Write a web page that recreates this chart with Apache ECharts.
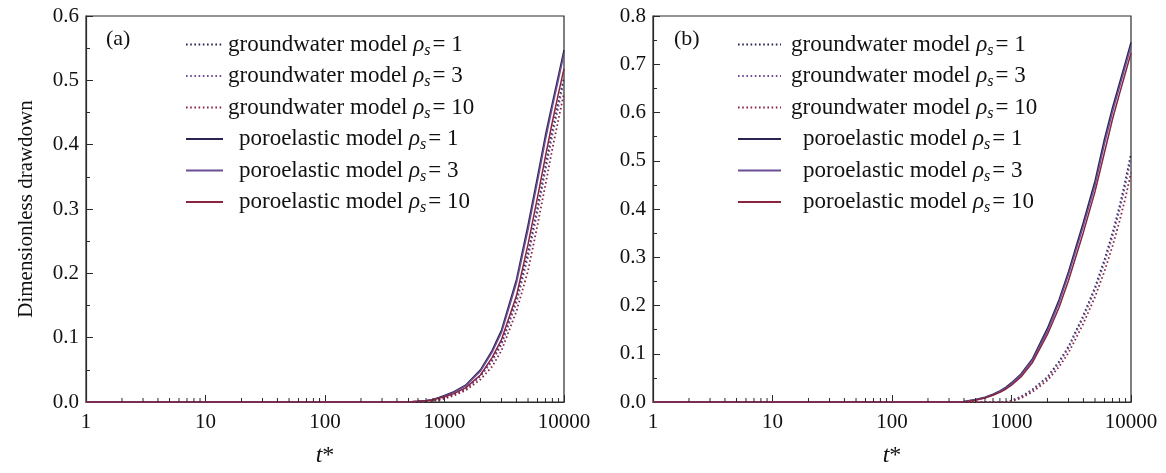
<!DOCTYPE html>
<html>
<head>
<meta charset="utf-8">
<script src="https://cdn.jsdelivr.net/npm/echarts@6.0.0/dist/echarts.min.js"></script>
<style>
  html, body { margin: 0; padding: 0; background: #fff; }
  #main { width: 1166px; height: 473px; }
</style>
</head>
<body>
<div id="main"></div>
<script>
// t* sample points (log axis)
const tValues = [1, 10, 100, 200, 300, 400, 500, 600, 700, 800, 900, 1000, 1200, 1500, 2000, 2500, 3000, 4000, 5000, 6000, 7000, 8000, 9000, 10000];
const rhoValues = [1, 3, 10];

// panel (a)
const aGw1 = [0, 0, 0, 0, 0, 0, 0, 0, 0.001, 0.002, 0.004, 0.007, 0.012, 0.021, 0.041, 0.065, 0.092, 0.159, 0.232, 0.303, 0.367, 0.423, 0.467, 0.505];
const aGw3 = [0, 0, 0, 0, 0, 0, 0, 0, 0.001, 0.002, 0.004, 0.007, 0.012, 0.020, 0.040, 0.063, 0.089, 0.154, 0.225, 0.296, 0.360, 0.415, 0.460, 0.499];
const aGw10 = [0, 0, 0, 0, 0, 0, 0, 0, 0.001, 0.0015, 0.003, 0.005, 0.010, 0.018, 0.035, 0.055, 0.080, 0.141, 0.204, 0.275, 0.338, 0.394, 0.440, 0.480];
const aPe1 = [0, 0, 0, 0, 0, 0, 0, 0.001, 0.002, 0.004, 0.007, 0.010, 0.016, 0.026, 0.050, 0.080, 0.112, 0.190, 0.275, 0.350, 0.415, 0.465, 0.508, 0.547];
const aPe3 = [0, 0, 0, 0, 0, 0, 0, 0.001, 0.002, 0.004, 0.006, 0.009, 0.015, 0.025, 0.048, 0.077, 0.108, 0.185, 0.268, 0.343, 0.408, 0.459, 0.502, 0.541];
const aPe10 = [0, 0, 0, 0, 0, 0, 0, 0.001, 0.002, 0.003, 0.006, 0.008, 0.013, 0.022, 0.042, 0.069, 0.097, 0.165, 0.245, 0.318, 0.382, 0.436, 0.480, 0.518];

// panel (b)
const bGw1 = [0, 0, 0, 0, 0, 0, 0, 0, 0, 0, 0, 0.003, 0.011, 0.026, 0.052, 0.084, 0.115, 0.180, 0.238, 0.295, 0.350, 0.405, 0.460, 0.515];
const bGw3 = [0, 0, 0, 0, 0, 0, 0, 0, 0, 0, 0, 0.003, 0.010, 0.025, 0.050, 0.081, 0.112, 0.176, 0.233, 0.289, 0.343, 0.397, 0.451, 0.505];
const bGw10 = [0, 0, 0, 0, 0, 0, 0, 0, 0, 0, 0, 0.001, 0.008, 0.021, 0.045, 0.073, 0.102, 0.163, 0.218, 0.271, 0.323, 0.374, 0.424, 0.475];
const bPe1 = [0, 0, 0, 0, 0, 0.001, 0.005, 0.010, 0.016, 0.023, 0.031, 0.040, 0.058, 0.090, 0.153, 0.212, 0.270, 0.373, 0.458, 0.545, 0.610, 0.660, 0.705, 0.745];
const bPe3 = [0, 0, 0, 0, 0, 0.001, 0.0045, 0.009, 0.015, 0.022, 0.029, 0.038, 0.056, 0.087, 0.147, 0.206, 0.264, 0.365, 0.449, 0.535, 0.601, 0.652, 0.697, 0.737];
const bPe10 = [0, 0, 0, 0, 0, 0, 0.0035, 0.008, 0.014, 0.020, 0.027, 0.035, 0.052, 0.082, 0.140, 0.196, 0.252, 0.352, 0.436, 0.517, 0.586, 0.638, 0.683, 0.723];

// minor ticks of the log axis
const minorTicks = [2, 3, 4, 5, 6, 7, 8, 9, 20, 30, 40, 50, 60, 70, 80, 90, 200, 300, 400, 500, 600, 700, 800, 900, 2000, 3000, 4000, 5000, 6000, 7000, 8000, 9000];

const FONT = '"Liberation Serif", "Times New Roman", serif';
const colors = ['#2a2450', '#6a4f95', '#8a2440'];
const axisColor = '#2a2a2a';

const panels = [
  { key: 'a', gw: [aGw1, aGw3, aGw10], pe: [aPe1, aPe3, aPe10] },
  { key: 'b', gw: [bGw1, bGw3, bGw10], pe: [bPe1, bPe3, bPe10] }
];

const labels = {};
const series = [];
panels.forEach((p, i) => {
  const pad = i === 0 ? '' : 'b';
  p.gw.forEach((vals, j) => {
    const name = p.key + '-gw-' + rhoValues[j];
    labels[name] = '{g' + pad + '|groundwater model }{r|ρ}{s|s}{e|= ' + rhoValues[j] + '}';
    series.push({
      name: name, type: 'line', xAxisIndex: i, yAxisIndex: i,
      data: tValues.map((t, k) => [t, vals[k]]),
      showSymbol: false, symbol: 'none', smooth: false,
      lineStyle: { color: colors[j], width: 1.8, type: [1.6, 2.6] },
      itemStyle: { color: colors[j] }, z: 2
    });
  });
  p.pe.forEach((vals, j) => {
    const name = p.key + '-pe-' + rhoValues[j];
    labels[name] = '{p' + pad + '|poroelastic model }{r|ρ}{s|s}{e|= ' + rhoValues[j] + '}';
    series.push({
      name: name, type: 'line', xAxisIndex: i, yAxisIndex: i,
      data: tValues.map((t, k) => [t, vals[k]]),
      showSymbol: false, symbol: 'none', smooth: false,
      lineStyle: { color: colors[j], width: 1.5, type: 'solid' },
      itemStyle: { color: colors[j] }, z: 3
    });
  });
  series.push({
    type: 'custom', xAxisIndex: i, yAxisIndex: i, silent: true, z: 5,
    data: minorTicks.map(v => [v, 0]),
    renderItem: function (params, api) {
      const pt = api.coord([api.value(0), 0]);
      return {
        type: 'line',
        shape: { x1: pt[0], y1: pt[1], x2: pt[0], y2: pt[1] - 4 },
        style: { stroke: axisColor, lineWidth: 1 }
      };
    }
  });
});

const base = { fontFamily: FONT, fontSize: 23, color: '#111', lineHeight: 28 };
const rich = {
  g: base,
  gb: Object.assign({}, base, { padding: [0, 0, 0, 5] }),
  p: Object.assign({}, base, { padding: [0, 0, 0, 11] }),
  pb: Object.assign({}, base, { padding: [0, 0, 0, 17] }),
  r: Object.assign({}, base, { fontStyle: 'italic' }),
  s: { fontFamily: FONT, fontSize: 16, fontStyle: 'italic', color: '#111', lineHeight: 10, verticalAlign: 'bottom', padding: [0, 2, 0, 0] },
  e: base
};

function legendFor(p, left, iw) {
  return {
    orient: 'vertical', left: left, top: 33, padding: 0,
    itemWidth: iw, itemHeight: 12, itemGap: 6,
    itemStyle: { opacity: 0 },
    data: ['gw', 'pe'].flatMap(k => rhoValues.map(r => p.key + '-' + k + '-' + r)),
    formatter: n => labels[n],
    textStyle: { rich: rich },
    selectedMode: false
  };
}

function xAxisFor(i) {
  return {
    type: 'log', gridIndex: i, min: 1, max: 10000, logBase: 10,
    name: '{i|t}{n|*}', nameLocation: 'middle', nameGap: 42,
    nameTextStyle: {
      rich: {
        i: { fontFamily: FONT, fontSize: 24, fontStyle: 'italic', color: '#111' },
        n: { fontFamily: FONT, fontSize: 24, color: '#111' }
      }
    },
    axisLine: { lineStyle: { color: axisColor, width: 1.2 } },
    axisTick: { inside: true, length: 7, lineStyle: { color: axisColor } },
    axisLabel: { fontFamily: FONT, fontSize: 21, color: '#111', margin: 10, formatter: v => String(Math.round(v)) },
    splitLine: { show: false }
  };
}

function yAxisFor(i, ymax) {
  return {
    type: 'value', gridIndex: i, min: 0, max: ymax, interval: 0.1,
    name: i === 0 ? 'Dimensionless drawdown' : '', nameLocation: 'middle', nameGap: 49,
    nameTextStyle: { fontFamily: FONT, fontSize: 21, color: '#111' },
    axisLine: { show: true, lineStyle: { color: axisColor, width: 1.2 } },
    axisTick: { show: true, inside: true, length: 7, lineStyle: { color: axisColor } },
    minorTick: { show: true, splitNumber: 2, length: 4, lineStyle: { color: axisColor } },
    axisLabel: { fontFamily: FONT, fontSize: 21, color: '#111', margin: 7, formatter: v => v.toFixed(1) },
    splitLine: { show: false }
  };
}

const chart = echarts.init(document.getElementById('main'), null, { renderer: 'canvas' });
chart.setOption({
  backgroundColor: '#fff',
  animation: false,
  title: [
    { text: '(a)', left: 106, top: 28, padding: 0, textStyle: { fontFamily: FONT, fontSize: 22, fontWeight: 'normal', color: '#111' } },
    { text: '(b)', left: 674, top: 28, padding: 0, textStyle: { fontFamily: FONT, fontSize: 22, fontWeight: 'normal', color: '#111' } }
  ],
  legend: [legendFor(panels[0], 185, 37), legendFor(panels[1], 737, 43)],
  grid: [
    { left: 86, top: 16, width: 478, height: 386, show: true, borderColor: axisColor, borderWidth: 1.2, backgroundColor: 'transparent' },
    { left: 653, top: 16, width: 478, height: 386, show: true, borderColor: axisColor, borderWidth: 1.2, backgroundColor: 'transparent' }
  ],
  xAxis: [xAxisFor(0), xAxisFor(1)],
  yAxis: [yAxisFor(0, 0.6), yAxisFor(1, 0.8)],
  series: series
});
</script>
</body>
</html>
